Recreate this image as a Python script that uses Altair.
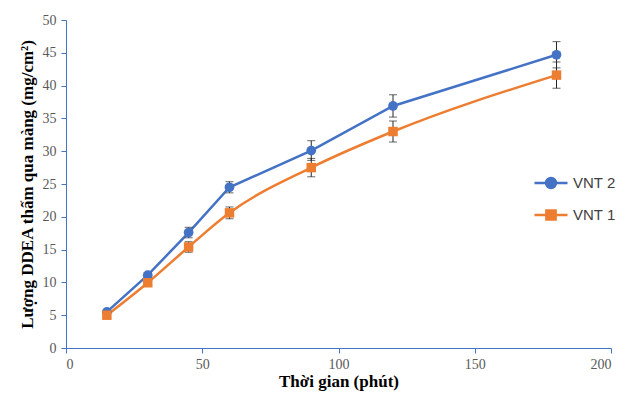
import altair as alt
import pandas as pd

times = [15, 30, 45, 60, 90, 120, 180]
vnt2 = [5.5, 11.1, 17.6, 24.5, 30.1, 36.9, 44.7]
vnt1 = [5.0, 9.95, 15.4, 20.6, 27.5, 33.0, 41.6]
err2 = [0.3, 0.4, 0.8, 0.85, 1.5, 1.7, 2.0]
err1 = [0.3, 0.4, 0.8, 0.9, 1.4, 1.6, 2.0]
series_names = ["VNT 2", "VNT 1"]
colors = ["#4472C4", "#ED7D31"]

rows = []
for name, vals, errs in [("VNT 2", vnt2, err2), ("VNT 1", vnt1, err1)]:
    for t, v, e in zip(times, vals, errs):
        rows.append({"t": t, "v": v, "lo": v - e, "hi": v + e, "series": name})
df = pd.DataFrame(rows)

serif = "Liberation Serif"
x_axis = alt.Axis(values=[0, 50, 100, 150, 200], title="Thời gian (phút)")
y_axis = alt.Axis(values=list(range(0, 51, 5)), title="Lượng DDEA thấm qua màng (mg/cm²)",
                  labelOverlap=False)
x_scale = alt.Scale(domain=[0, 200], nice=False)
y_scale = alt.Scale(domain=[0, 50], nice=False)


def X():
    return alt.X("t:Q", scale=x_scale, axis=x_axis)


def Y(field):
    return alt.Y(field + ":Q", scale=y_scale, axis=y_axis)


color_scale = alt.Scale(domain=series_names, range=colors)

base = alt.Chart(df)

circle_path = "M-1,0L1,0M0.3,0A0.3,0.3,0,1,1,-0.3,0A0.3,0.3,0,1,1,0.3,0Z"
square_path = "M-1,0L1,0M-0.28,-0.28L0.28,-0.28L0.28,0.28L-0.28,0.28Z"

leg = alt.Legend(title=None, orient="none", legendX=467, legendY=145,
                 symbolSize=1089, symbolStrokeWidth=2.5, rowPadding=4,
                 symbolOpacity=1,
                 labelFont="Liberation Sans", labelFontSize=15, labelColor="#404040",
                 labelOffset=4)

legend_layer = base.mark_point(opacity=1, strokeWidth=0.1, size=0.5).encode(
    x=X(), y=Y("v"),
    fill=alt.Fill("series:N", scale=color_scale, legend=leg),
    stroke=alt.Stroke("series:N", scale=color_scale, legend=leg),
    shape=alt.Shape("series:N", scale=alt.Scale(domain=series_names, range=[circle_path, square_path]),
                    legend=leg),
)

line2 = base.transform_filter(alt.datum.series == "VNT 2").mark_line(
    strokeWidth=2.5, interpolate="linear").encode(
    x=X(), y=Y("v"),
    color=alt.Color("series:N", scale=color_scale, legend=None),
)
line1 = base.transform_filter(alt.datum.series == "VNT 1").mark_line(
    strokeWidth=2.5, interpolate="monotone").encode(
    x=X(), y=Y("v"),
    color=alt.Color("series:N", scale=color_scale, legend=None),
)

err_rule = base.mark_rule(color="#262626", strokeWidth=1).encode(
    x=X(), y=Y("lo"), y2="hi:Q")
err_lo = base.mark_tick(color="#262626", thickness=1, size=8, orient="horizontal").encode(
    x=X(), y=Y("lo"))
err_hi = base.mark_tick(color="#262626", thickness=1, size=8, orient="horizontal").encode(
    x=X(), y=Y("hi"))

pts2 = base.transform_filter(alt.datum.series == "VNT 2").mark_point(
    filled=True, opacity=1, size=95, shape="circle").encode(
    x=X(), y=Y("v"),
    color=alt.Color("series:N", scale=color_scale, legend=None),
)
pts1 = base.transform_filter(alt.datum.series == "VNT 1").mark_point(
    filled=True, opacity=1, size=90, shape="square").encode(
    x=X(), y=Y("v"),
    color=alt.Color("series:N", scale=color_scale, legend=None),
)

chart = alt.layer(legend_layer, line1, line2, err_rule, err_lo, err_hi, pts2, pts1).properties(
    width=545, height=328,
    autosize=alt.AutoSizeParams(type="none"),
    padding={"left": 58, "top": 12, "right": 4, "bottom": 50},
).configure_view(stroke=None).configure_axis(
    grid=False, domainColor="#4472C4", tickColor="#4472C4", tickSize=5,
    labelFont=serif, labelFontSize=14, labelColor="#595959",
    titleFont=serif, titleFontSize=17, titleFontWeight="bold", titleColor="#000000",
    domainWidth=1,
).configure_axisX(labelPadding=4, titlePadding=2).configure_axisY(labelPadding=5, titlePadding=6)

chart.save("out.html", embed_options={"renderer": "svg", "actions": False})
